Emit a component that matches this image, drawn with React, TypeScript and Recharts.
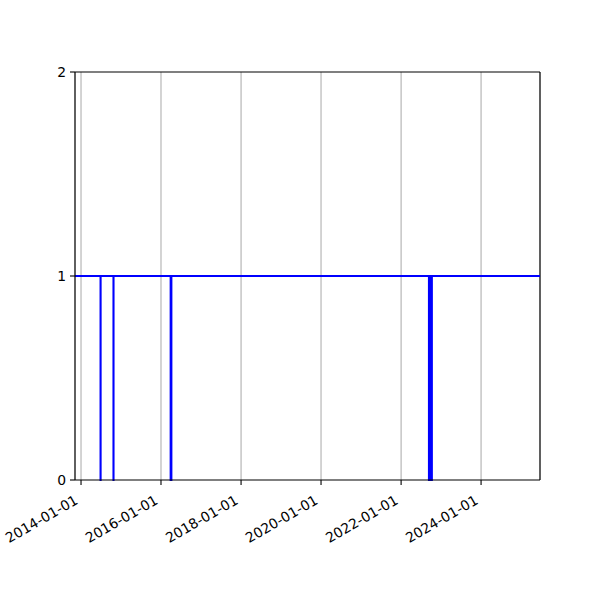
import React from "react";
import { LineChart, Line, XAxis, YAxis, CartesianGrid, ReferenceLine } from "recharts";

const rangeStart = "2013-11-07";
const rangeEnd = "2025-06-22";
const outageStarts = ["2014-06-28", "2014-10-24", "2016-03-29", "2022-09-12", "2022-09-21", "2022-09-30"];
const outageEnds = ["2014-06-29", "2014-10-25", "2016-04-05", "2022-09-20", "2022-09-29", "2022-10-09"];
const xTickLabels = ["2014-01-01", "2016-01-01", "2018-01-01", "2020-01-01", "2022-01-01", "2024-01-01"];
const yTicks = [0, 1, 2];

const ms = (s: string) => Date.parse(s + "T00:00:00Z");

const data: { t: number; v: number }[] = [];
data.push({ t: ms(rangeStart), v: 1 });
outageStarts.forEach((s, i) => {
  const a = ms(s);
  const b = ms(outageEnds[i]);
  data.push({ t: a, v: 1 });
  data.push({ t: a, v: 0 });
  data.push({ t: b, v: 0 });
  data.push({ t: b, v: 1 });
});
data.push({ t: ms(rangeEnd), v: 1 });

const xTicks = xTickLabels.map(ms);
const FONT = "DejaVu Sans";

const fmt = (v: number) => {
  const d = new Date(v);
  const mm = String(d.getUTCMonth() + 1).padStart(2, "0");
  const dd = String(d.getUTCDate()).padStart(2, "0");
  return `${d.getUTCFullYear()}-${mm}-${dd}`;
};

const XTick = (props: any) => {
  const { x, y, payload } = props;
  const x0 = x - 2;
  const y0 = y + 16;
  return (
    <text
      x={x0}
      y={y0}
      textAnchor="end"
      fontFamily={FONT}
      fontSize={13.9}
      fill="#000"
      transform={`rotate(-30, ${x0}, ${y0})`}
    >
      {fmt(payload.value)}
    </text>
  );
};

export default function App() {
  return (
    <div style={{ position: "absolute", left: 0, top: 0, background: "#fff" }}>
      <LineChart
        width={600}
        height={600}
        data={data}
        margin={{ top: 72, right: 60, bottom: 0, left: 0 }}
      >
        <CartesianGrid horizontal={false} vertical={true} stroke="#b0b0b0" strokeWidth={1.1} />
        <XAxis
          dataKey="t"
          type="number"
          domain={[ms(rangeStart), ms(rangeEnd)]}
          ticks={xTicks}
          interval={0}
          height={120}
          tickSize={5}
          tickMargin={2}
          tick={<XTick />}
          axisLine={{ stroke: "#000", strokeWidth: 1.1 }}
          tickLine={{ stroke: "#000", strokeWidth: 1.1 }}
          allowDataOverflow
        />
        <YAxis
          type="number"
          domain={[0, 2]}
          ticks={yTicks}
          interval={0}
          width={75}
          tickSize={5}
          tickMargin={4}
          tick={{ fill: "#000", fontFamily: FONT, fontSize: 13.9 }}
          axisLine={{ stroke: "#000", strokeWidth: 1.1 }}
          tickLine={{ stroke: "#000", strokeWidth: 1.1 }}
        />
        <ReferenceLine y={2} stroke="#000" strokeWidth={1.1} />
        <ReferenceLine x={ms(rangeEnd)} stroke="#000" strokeWidth={1.1} />
        <Line
          type="linear"
          dataKey="v"
          stroke="#0000ff"
          strokeWidth={2}
          dot={false}
          isAnimationActive={false}
        />
      </LineChart>
    </div>
  );
}
